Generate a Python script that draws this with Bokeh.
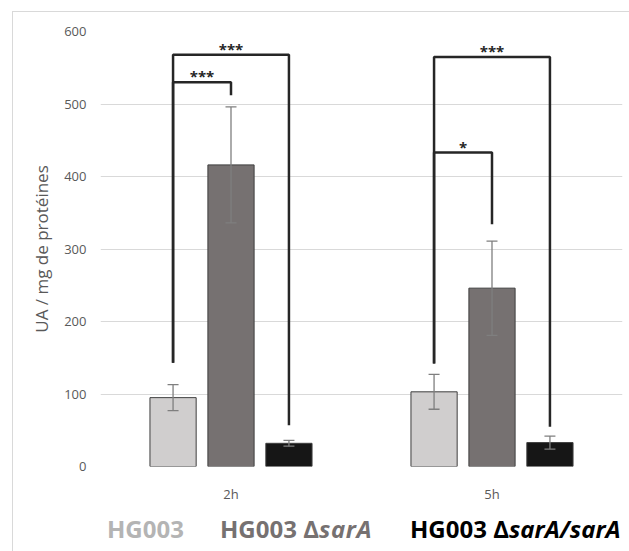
from bokeh.plotting import figure
from bokeh.layouts import column
from bokeh.models import ColumnDataSource, Range1d, FactorRange, Whisker, TeeHead, FixedTicker, Div
from bokeh.transform import dodge
from bokeh.core.properties import value
from bokeh.embed import file_html
from bokeh.resources import INLINE

# ---------------- data ----------------
times = ["2h", "5h"]
strains = ["HG003", "HG003 ΔsarA", "HG003 ΔsarA/sarA"]

hg003 = [95, 103]
hg003_err = [18, 24]
sarA = [416, 246]
sarA_err = [80, 65]
sarA_comp = [32, 33]
sarA_comp_err = [4, 9]

y_ticks = [0, 100, 200, 300, 400, 500, 600]

bracket_time = ["2h", "2h", "5h", "5h"]
bracket_from = ["HG003", "HG003", "HG003", "HG003"]
bracket_to = ["HG003 ΔsarA/sarA", "HG003 ΔsarA", "HG003 ΔsarA/sarA", "HG003 ΔsarA"]
bracket_top = [568, 530, 565, 433]
bracket_from_foot = [143, 143, 142, 142]
bracket_to_foot = [57, 512, 55, 334]
bracket_stars = ["***", "***", "***", "*"]

legend_prefix = ["HG003", "HG003 Δ", "HG003 Δ"]
legend_italic = ["", "sarA", "sarA/sarA"]

# ---------------- style ----------------
offsets = [-0.222, 0.0, 0.222]
bar_width = 0.177
fills = ["#d0cece", "#767171", "#161616"]
legend_colors = ["#b4b4b4", "#767171", "#000000"]
legend_left = [107, 220, 410]
italic_spacing = ["0px", "0.6px", "0px"]
FONT = "Open Sans"
FRAME = "#d9d9d9"

p = figure(x_range=FactorRange(*times, range_padding=0), y_range=Range1d(0, 600),
           width=629, height=510, output_backend="svg", toolbar_location=None,
           min_border_left=100, min_border_right=7, min_border_top=31, min_border_bottom=44)
p.outline_line_color = None
p.border_fill_color = None
p.background_fill_color = "white"
p.styles = {
    "background-color": "white",
    "background-image": f"linear-gradient({FRAME},{FRAME}), linear-gradient({FRAME},{FRAME})",
    "background-size": "1px 100%, 100% 1px",
    "background-position": "12px 11px, 12px 11px",
    "background-repeat": "no-repeat",
}
p.xgrid.grid_line_color = None
p.ygrid.grid_line_color = FRAME
p.ygrid.grid_line_width = 1

p.yaxis.ticker = FixedTicker(ticks=y_ticks)
for ax in (p.xaxis[0], p.yaxis[0]):
    ax.axis_line_color = None
    ax.major_tick_line_color = None
    ax.minor_tick_line_color = None
    ax.major_tick_out = 0
    ax.major_tick_in = 0
    ax.major_label_text_color = "#595959"
    ax.major_label_text_font = FONT
    ax.major_label_text_font_size = "13px"
p.yaxis.major_label_standoff = 14
p.xaxis.major_label_standoff = 18
p.yaxis.axis_label = "UA / mg de protéines"
p.yaxis.axis_label_text_font = FONT
p.yaxis.axis_label_text_font_size = "17px"
p.yaxis.axis_label_text_font_style = "normal"
p.yaxis.axis_label_text_color = "#595959"
p.yaxis.axis_label_standoff = 8

series = [(hg003, hg003_err), (sarA, sarA_err), (sarA_comp, sarA_comp_err)]
for i, (vals, errs) in enumerate(series):
    src = ColumnDataSource(dict(t=times, v=vals,
                                lo=[v - e for v, e in zip(vals, errs)],
                                hi=[v + e for v, e in zip(vals, errs)]))
    p.vbar(x=dodge("t", offsets[i], range=p.x_range), top="v", width=bar_width, source=src,
           fill_color=fills[i], line_color="#3f3f3f", line_width=1)
    w = Whisker(base=dodge("t", offsets[i], range=p.x_range), upper="hi", lower="lo", source=src,
                line_color="#7f7f7f", line_width=1.3,
                upper_head=TeeHead(size=11, line_color="#7f7f7f", line_width=1.3),
                lower_head=TeeHead(size=11, line_color="#7f7f7f", line_width=1.3),
                level="overlay")
    p.add_layout(w)

off = dict(zip(strains, offsets))
bxs, bys, sx, sy = [], [], [], []
for t, a, b, top, fa, fb in zip(bracket_time, bracket_from, bracket_to, bracket_top,
                                bracket_from_foot, bracket_to_foot):
    bxs.append([[t, off[a]], [t, off[a]], [t, off[b]], [t, off[b]]])
    bys.append([fa, top, top, fb])
    sx.append([t, (off[a] + off[b]) / 2])
    sy.append(top)
p.multi_line(xs=bxs, ys=bys, line_color="#262626", line_width=2.5)
p.text(x=sx, y=sy, text=bracket_stars, text_align="center", text_baseline="alphabetic",
       text_font=value(FONT), text_font_size="15px", text_font_style="bold",
       text_color="#262626", y_offset=-6)

# legend row (coloured, bold, partly italic strain names)
spans = "".join(
    f'<span style="position:absolute;left:{x}px;top:4px;color:{c}">{pre}'
    f'<i style="letter-spacing:{ls}">{it}</i></span>'
    for x, c, pre, it, ls in zip(legend_left, legend_colors, legend_prefix, legend_italic, italic_spacing)
)
legend_html = (
    f'<div style="position:relative;width:629px;height:41px;overflow:hidden;'
    f"font-family:'{FONT}';font-size:24px;font-weight:700;line-height:30px;white-space:nowrap\">"
    f'<div style="position:absolute;left:12px;top:0;width:1px;height:41px;background:{FRAME}"></div>'
    f'{spans}</div>'
)
legend = Div(text=legend_html, width=629, height=41, margin=0,
             styles={"overflow": "hidden", "background-color": "white"})

layout = column(p, legend, spacing=0)
open("out.html", "w").write(file_html(layout, INLINE))
